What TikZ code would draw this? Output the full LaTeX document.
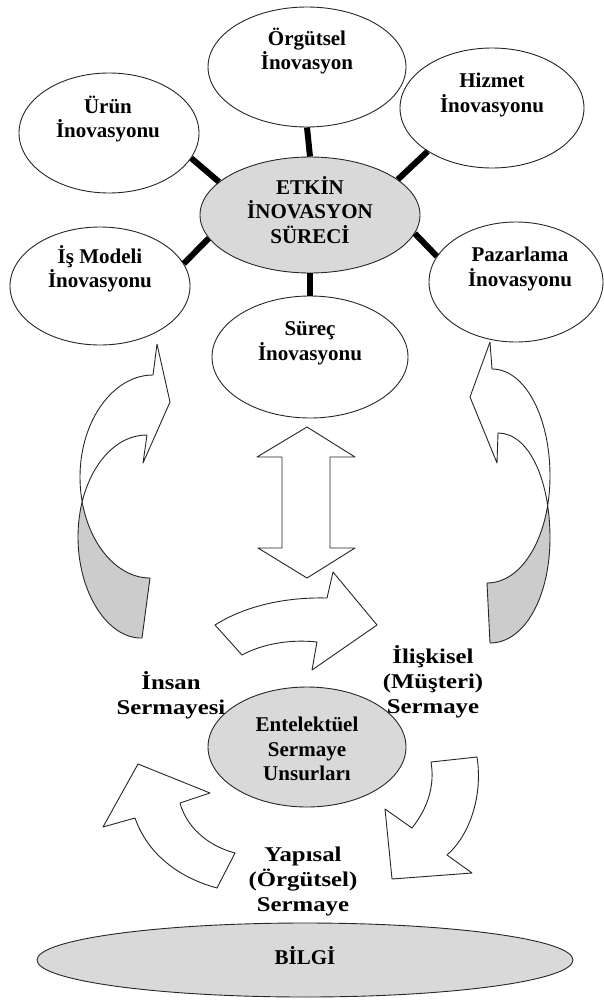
\documentclass[tikz,border=0pt]{standalone}
\usepackage{fontspec}
\setmainfont{Liberation Serif}
\newfontfamily\widefont[FakeStretch=1.18]{Liberation Serif}
\usepackage{tikz}
\usetikzlibrary{shapes.geometric}

\newcommand{\boxfont}{\fontsize{21}{24.5}\selectfont\bfseries}
\newcommand{\sidefont}{\widefont\fontsize{21}{25}\selectfont\bfseries}

\begin{document}
\begin{tikzpicture}[
    x=1pt, y=-1pt,
    innov/.style={ellipse, draw=black!85, line width=0.9pt, fill=white, inner sep=0pt},
    core/.style={innov, fill=black!15},
    spoke/.style={line width=6pt, black},
    lbl/.style={font=\boxfont, align=center, inner sep=0pt},
    side/.style={font=\sidefont, align=center, inner sep=0pt},
    flow/.style={draw=black!85, line width=0.9pt, line join=round},
    shade/.style={fill=black!20}
]
\useasboundingbox (0,0) rectangle (604,1001);

% innovation types round the core
\node[innov, minimum width=198pt, minimum height=120pt] (orgut) at (307,67) {};
\node[innov, minimum width=180pt, minimum height=120pt] (urun) at (109,133) {};
\node[innov, minimum width=184pt, minimum height=120pt] (hizmet) at (492,108) {};
\node[innov, minimum width=180pt, minimum height=118pt] (ismodel) at (100,286) {};
\node[innov, minimum width=174pt, minimum height=120pt] (pazar) at (516,282) {};
\node[innov, minimum width=196pt, minimum height=122pt] (surec) at (310,357) {};
\node[core, minimum width=220pt, minimum height=116pt] (etkin) at (310,215) {};

\draw[spoke] (etkin.90) -- (orgut.270);
\draw[spoke] (etkin.160) -- (urun.-17);
\draw[spoke] (etkin.22) -- (hizmet.214);
\draw[spoke] (etkin.193) -- (ismodel.15);
\draw[spoke] (etkin.-10) -- (pazar.162);
\draw[spoke] (etkin.270) -- (surec.90);

\node[lbl] (orgutT) at (307,51) {Örgütsel\\İnovasyon};
\node[lbl] (urunT) at (108,119) {Ürün\\İnovasyonu};
\node[lbl] (hizmetT) at (492,95) {Hizmet\\İnovasyonu};
\node[lbl] (ismodelT) at (100,269) {İş Modeli\\İnovasyonu};
\node[lbl] (pazarT) at (520,269) {Pazarlama\\İnovasyonu};
\node[lbl] (surecT) at (310,343) {Süreç\\İnovasyonu};
\node[lbl] (etkinT) at (310,210) {ETKİN\\İNOVASYON\\SÜRECİ};

% left and right bent arrows
\begin{scope}
  \clip (0,503) rectangle (300,700);
  \fill[shade] (153,375) .. controls (113,375) and (80,421) .. (80,477)
    .. controls (80,533) and (112,578) .. (150,578) -- (142,638)
    .. controls (108,639) and (78,593) .. (78,537)
    .. controls (78,481) and (108,435) .. (147,435) -- cycle;
\end{scope}
\begin{scope}
  \clip (300,507) rectangle (604,700);
  \fill[shade] (492,369) .. controls (525,369) and (550,417) .. (550,476)
    .. controls (550,535) and (523,583) .. (487,583) -- (490,643)
    .. controls (525,643) and (550,596) .. (550,538)
    .. controls (550,480) and (529,433) .. (498,433) -- cycle;
\end{scope}
\draw[flow] (153,375) .. controls (113,375) and (80,421) .. (80,477)
    .. controls (80,533) and (112,578) .. (150,578) -- (142,638)
    .. controls (108,639) and (78,593) .. (78,537)
    .. controls (78,481) and (108,435) .. (147,435)
    -- (143,463) -- (170,402) -- (157,344) -- cycle;
\draw[flow] (492,369) .. controls (525,369) and (550,417) .. (550,476)
    .. controls (550,535) and (523,583) .. (487,583) -- (490,643)
    .. controls (525,643) and (550,596) .. (550,538)
    .. controls (550,480) and (529,433) .. (498,433)
    -- (497,463) -- (470,397) -- (490,342) -- cycle;

% two-way arrow
\draw[flow, fill=white] (307,427) -- (355,457) -- (330,457) -- (330,548) -- (355,548)
    -- (307,578) -- (258,548) -- (282,548) -- (282,457) -- (257,457) -- cycle;

% intellectual capital cycle
\node[core, minimum width=198pt, minimum height=120pt] (entel) at (307,747) {};
\node[lbl] (entelT) at (307,749) {Entelektüel\\Sermaye\\Unsurları};

\draw[flow, fill=white] (215,625) .. controls (245,606) and (285,597) .. (327,598)
    -- (333,572) -- (377,625) -- (312,670) -- (317,642)
    .. controls (290,639) and (262,644) .. (242,655) -- cycle;
\draw[flow, fill=white] (431,762) -- (477,757) .. controls (483,795) and (470,835) .. (447,855)
    -- (472,873) -- (392,879) -- (385,809) -- (412,828)
    .. controls (428,808) and (435,785) .. (431,762) -- cycle;
\draw[flow, fill=white] (103,827) -- (138,764) -- (210,793) -- (180,803)
    .. controls (186,825) and (205,845) .. (235,853) -- (217,888)
    .. controls (180,878) and (148,855) .. (135,818) -- cycle;

\node[side] (insanT) at (171,695) {İnsan\\Sermayesi};
\node[side] (iliskiT) at (433,682) {İlişkisel\\(Müşteri)\\Sermaye};
\node[side] (yapisalT) at (303,881) {Yapısal\\(Örgütsel)\\Sermaye};

% knowledge base
\node[core, minimum width=536pt, minimum height=74pt] (bilgi) at (305,960) {};
\node[lbl] (bilgiT) at (305,956) {BİLGİ};

\end{tikzpicture}
\end{document}
